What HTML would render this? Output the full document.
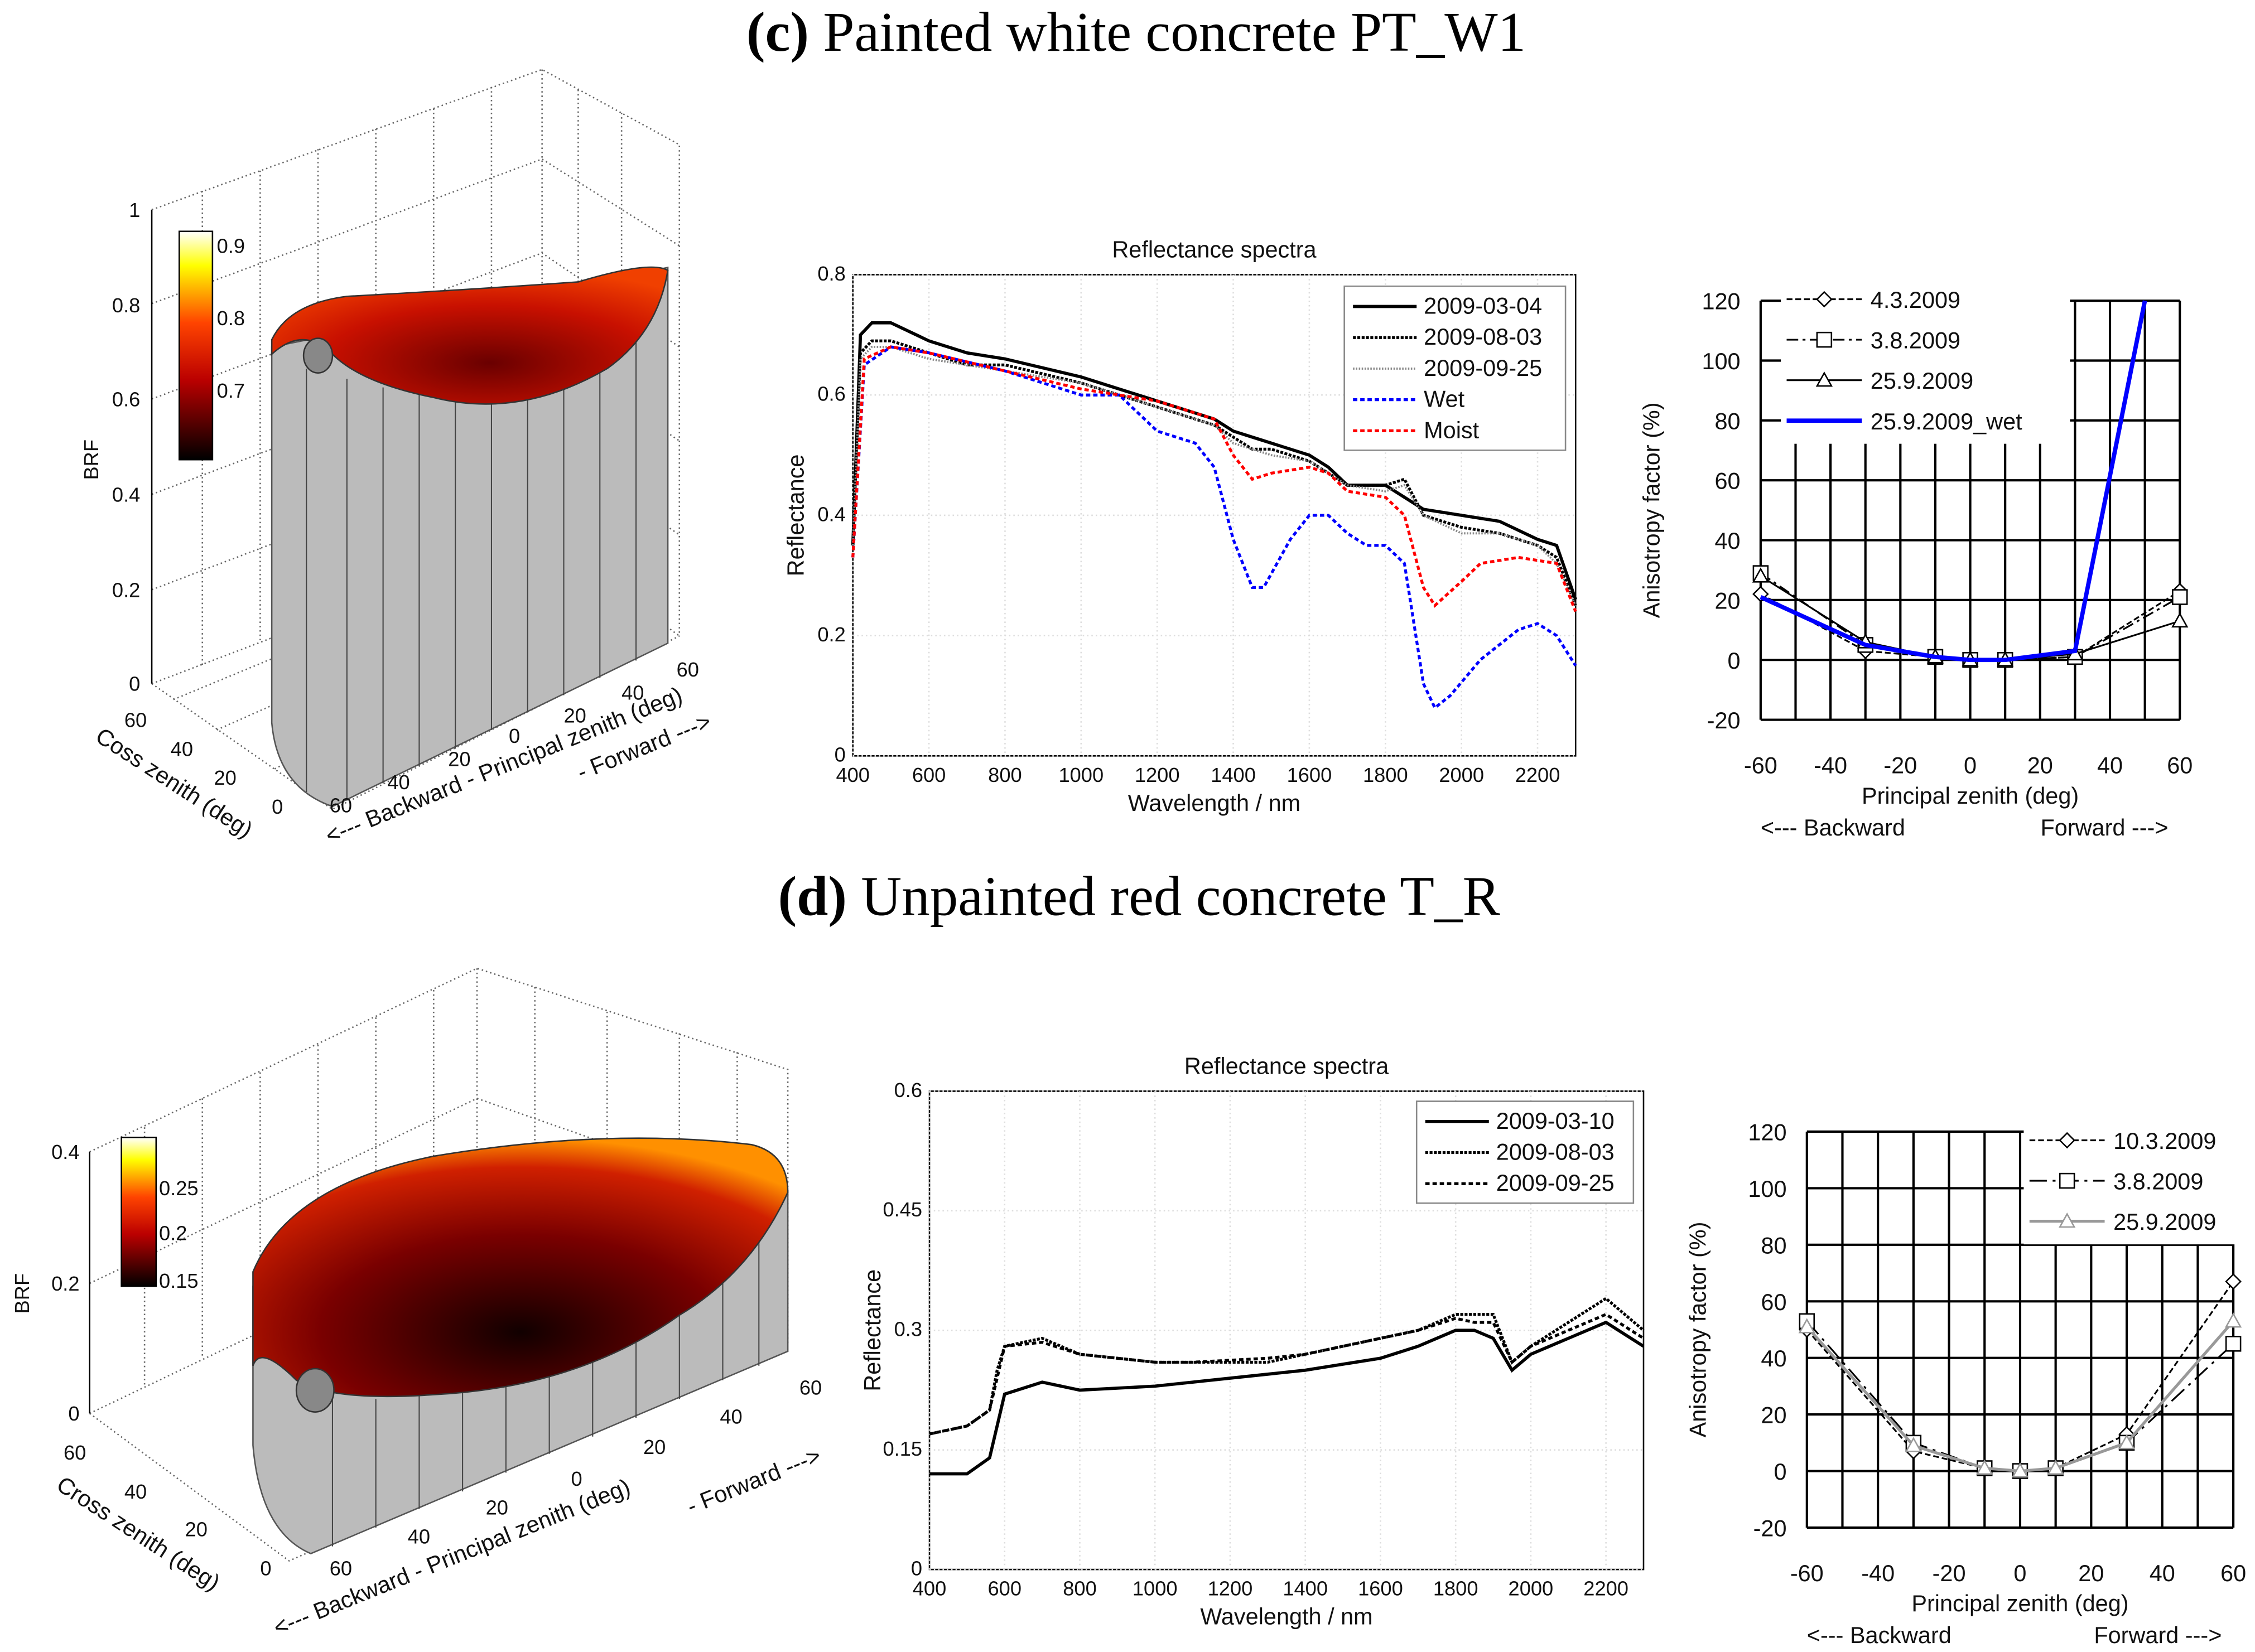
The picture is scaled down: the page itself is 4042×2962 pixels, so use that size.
<!DOCTYPE html>
<html><head><meta charset="utf-8"><style>
html,body{margin:0;padding:0;background:#fff;}
svg{display:block;font-family:"Liberation Sans",sans-serif;}
.t{font-size:14px;fill:#111}
.al{font-size:16px;fill:#111}
.ti{font-family:"Liberation Serif",serif;font-size:39px;fill:#000}
</style></head><body>
<svg id="fig" width="4042" height="2962" viewBox="0 0 1560 1143" xmlns="http://www.w3.org/2000/svg">
<defs>
<linearGradient id="cb" x1="0" y1="1" x2="0" y2="0">
<stop offset="0" stop-color="#000"/><stop offset="0.35" stop-color="#b00"/><stop offset="0.6" stop-color="#f40"/><stop offset="0.85" stop-color="#ff0"/><stop offset="1" stop-color="#fff"/></linearGradient>
<radialGradient id="sc" cx="0.55" cy="0.7" r="0.7"><stop offset="0" stop-color="#6a0000"/><stop offset="0.6" stop-color="#c81000"/><stop offset="1" stop-color="#f04000"/></radialGradient>
<radialGradient id="sd" cx="0.5" cy="0.75" r="0.75"><stop offset="0" stop-color="#100"/><stop offset="0.5" stop-color="#7a0000"/><stop offset="0.85" stop-color="#d02000"/><stop offset="1" stop-color="#ff9000"/></radialGradient>
</defs>

<text class="ti" x="786" y="35" text-anchor="middle"><tspan font-weight="bold">(c)</tspan> Painted white concrete PT_W1</text>
<text class="ti" x="788" y="633" text-anchor="middle"><tspan font-weight="bold">(d)</tspan> Unpainted red concrete T_R</text>

<!-- 3D panel c -->
<g stroke="#666" stroke-dasharray="1,2" fill="none" stroke-width="1">
<path d="M105,145 L375,48 L470,100 L470,440 M105,473 L375,370 L470,440 M375,48 L375,370"/>
<path d="M105,408 L375,305 L470,370 M105,342 L375,240 L470,305 M105,276 L375,175 L470,240 M105,210 L375,110 L470,170"/>
<path d="M140,132 L140,460 M180,118 L180,445 M220,103 L220,430 M260,89 L260,415 M300,75 L300,400 M340,60 L340,385 M400,62 L400,385 M430,78 L430,410"/>
<path d="M105,473 L230,560 L470,440 M120,484 L395,370 M150,505 L420,385 M190,532 L445,400"/>
</g>
<g>
<line x1="105" y1="145" x2="105" y2="473" stroke="#000"/>
<text class="t" x="97" y="150" text-anchor="end">1</text>
<text class="t" x="97" y="216" text-anchor="end">0.8</text>
<text class="t" x="97" y="281" text-anchor="end">0.6</text>
<text class="t" x="97" y="347" text-anchor="end">0.4</text>
<text class="t" x="97" y="413" text-anchor="end">0.2</text>
<text class="t" x="97" y="478" text-anchor="end">0</text>
<text class="t" x="68" y="318" transform="rotate(-90 68 318)" text-anchor="middle">BRF</text>
</g>
<path d="M188,240 L188,500 Q192,545 230,558 L462,445 L462,185 Z" fill="#bbb" stroke="#555"/>
<g stroke="#444" stroke-width="0.8"><path d="M212,255 V548 M240,262 V554 M265,268 V542 M290,272 V530 M315,275 V518 M340,275 V505 M365,272 V493 M390,265 V481 M415,250 V469 M440,225 V457"/></g>
<path d="M188,235 Q200,210 240,205 Q330,200 400,195 Q450,180 462,187 Q455,230 420,255 Q360,290 300,275 Q250,265 230,245 Q210,225 188,245 Z" fill="url(#sc)" stroke="#333"/>
<ellipse cx="220" cy="246" rx="10" ry="12" fill="#888" stroke="#333"/>
<rect x="124" y="160" width="23" height="158" fill="url(#cb)" stroke="#000"/>
<text class="t" x="150" y="175">0.9</text><text class="t" x="150" y="225">0.8</text><text class="t" x="150" y="275">0.7</text>
<g class="t">
<text x="86" y="503">60</text><text x="118" y="523">40</text><text x="148" y="543">20</text><text x="188" y="563">0</text>
<text x="228" y="562">60</text><text x="268" y="546">40</text><text x="310" y="530">20</text><text x="352" y="514">0</text><text x="390" y="500">20</text><text x="430" y="484">40</text><text x="468" y="468">60</text>
<text x="65" y="512" transform="rotate(33 65 512)" class="al">Coss zenith (deg)</text>
<text x="228" y="584" transform="rotate(-22 228 584)" class="al">&lt;--- Backward -  Principal zenith (deg)</text>
<text x="402" y="540" transform="rotate(-22 402 540)" class="al">- Forward ---&gt;</text>
</g>

<!-- 3D panel d -->
<g stroke="#666" stroke-dasharray="1,2" fill="none">
<path d="M62,797 L330,670 L545,740 L545,930 M62,978 L330,850 L545,930 M330,670 L330,850 M62,888 L330,760 L545,835"/>
<path d="M100,780 V960 M140,760 V940 M180,742 V920 M220,723 V900 M260,704 V880 M300,685 V865 M370,683 V865 M420,700 V880 M470,715 V900 M510,728 V915"/>
<path d="M62,978 L200,1080 L545,930"/>
</g>
<g>
<line x1="62" y1="797" x2="62" y2="978" stroke="#000"/>
<text class="t" x="55" y="802" text-anchor="end">0.4</text>
<text class="t" x="55" y="893" text-anchor="end">0.2</text>
<text class="t" x="55" y="983" text-anchor="end">0</text>
<text class="t" x="20" y="895" transform="rotate(-90 20 895)" text-anchor="middle">BRF</text>
</g>
<path d="M175,890 L175,1000 Q180,1060 215,1075 L545,935 L545,825 Z" fill="#bbb" stroke="#555"/>
<g stroke="#444" stroke-width="0.8"><path d="M230,968 V1070 M260,968 V1057 M290,966 V1044 M320,962 V1032 M350,955 V1019 M380,945 V1006 M410,932 V994 M440,915 V981 M470,895 V968 M500,870 V955 M525,845 V945"/></g>
<path d="M175,880 Q200,820 300,800 Q420,780 520,792 Q545,798 545,825 Q520,880 470,910 Q400,960 300,965 Q230,970 205,955 Q180,930 175,945 Z" fill="url(#sd)" stroke="#333"/>
<ellipse cx="218" cy="962" rx="13" ry="15" fill="#888" stroke="#333"/>
<rect x="84" y="787" width="24" height="103" fill="url(#cb)" stroke="#000"/>
<text class="t" x="110" y="827">0.25</text><text class="t" x="110" y="858">0.2</text><text class="t" x="110" y="891">0.15</text>
<g class="t">
<text x="44" y="1010">60</text><text x="86" y="1037">40</text><text x="128" y="1063">20</text><text x="180" y="1090">0</text>
<text x="228" y="1090">60</text><text x="282" y="1068">40</text><text x="336" y="1048">20</text><text x="395" y="1028">0</text><text x="445" y="1006">20</text><text x="498" y="985">40</text><text x="553" y="965">60</text>
<text x="38" y="1030" transform="rotate(33 38 1030)" class="al">Cross zenith (deg)</text>
<text x="192" y="1132" transform="rotate(-22 192 1132)" class="al">&lt;--- Backward -  Principal zenith (deg)</text>
<text x="478" y="1048" transform="rotate(-22 478 1048)" class="al">- Forward ---&gt;</text>
</g>

<g id="sc1"></g>
<g id="sc2"></g>
<g id="af1"></g>
<g id="af2"></g>
</svg>
<script>
// ---- data ----
const wlC1=[400,420,450,500,600,700,800,1000,1200,1300,1350,1400,1450,1500,1600,1650,1700,1800,1850,1900,2000,2100,2200,2250,2300];
const c0304=[0.35,0.70,0.72,0.72,0.69,0.67,0.66,0.63,0.59,0.57,0.56,0.54,0.53,0.52,0.50,0.48,0.45,0.45,0.43,0.41,0.40,0.39,0.36,0.35,0.26];
const c0803=[0.35,0.67,0.69,0.69,0.67,0.65,0.65,0.62,0.58,0.56,0.55,0.53,0.51,0.51,0.49,0.47,0.45,0.45,0.46,0.40,0.38,0.37,0.35,0.33,0.25];
const c0925=[0.35,0.66,0.68,0.68,0.66,0.65,0.64,0.62,0.58,0.56,0.55,0.52,0.51,0.50,0.49,0.47,0.45,0.44,0.45,0.40,0.37,0.37,0.35,0.32,0.25];
const wlWet=[400,430,500,600,800,1000,1100,1150,1200,1300,1350,1400,1450,1480,1550,1600,1650,1700,1750,1800,1850,1900,1930,1970,2050,2150,2200,2250,2300];
const cWet=[0.33,0.65,0.68,0.67,0.64,0.60,0.60,0.57,0.54,0.52,0.48,0.36,0.28,0.28,0.36,0.40,0.40,0.37,0.35,0.35,0.32,0.12,0.08,0.10,0.16,0.21,0.22,0.20,0.15];
const wlMoist=[400,430,500,600,800,1000,1200,1300,1350,1400,1450,1500,1600,1650,1700,1800,1850,1900,1930,2000,2050,2150,2250,2300];
const cMoist=[0.33,0.66,0.68,0.67,0.64,0.61,0.59,0.57,0.56,0.50,0.46,0.47,0.48,0.47,0.44,0.43,0.40,0.28,0.25,0.29,0.32,0.33,0.32,0.24];
const wlD=[400,500,560,580,600,700,800,1000,1100,1300,1400,1600,1700,1800,1850,1900,1950,2000,2100,2200,2300];
const d0310=[0.12,0.12,0.14,0.18,0.22,0.235,0.225,0.23,0.235,0.245,0.25,0.265,0.28,0.30,0.30,0.29,0.25,0.27,0.29,0.31,0.28];
const d0803=[0.17,0.18,0.20,0.25,0.28,0.29,0.27,0.26,0.26,0.26,0.27,0.29,0.30,0.32,0.32,0.32,0.26,0.28,0.31,0.34,0.30];
const d0925=[0.17,0.18,0.20,0.24,0.28,0.285,0.27,0.26,0.26,0.265,0.27,0.29,0.30,0.315,0.31,0.31,0.26,0.28,0.30,0.32,0.29];
const angles=[-60,-30,-10,0,10,30,60];
const af0403=[22,3,1,0,0,1,23];
const af0308=[29,5,1,0,0,1,21];
const af2509=[28,6,1,0,0,2,13];
const anglesWet=[-60,-30,-10,0,10,30,50];
const afWet=[21,5,1,0,0,3,120];
const af1003=[50,7,1,0,1,13,67];
const af0308d=[53,10,1,0,1,10,45];
const af2509d=[51,9,1,0,1,10,53];
const wlTicks=[400,600,800,1000,1200,1400,1600,1800,2000,2200];
const reflTicksC=[0,0.2,0.4,0.6,0.8];
const reflTicksD=[0,0.15,0.3,0.45,0.6];
const angTicks=[-60,-40,-20,0,20,40,60];
const afTicks=[-20,0,20,40,60,80,100,120];

const NS="http://www.w3.org/2000/svg";
function mk(p,tag,a,txt){const e=document.createElementNS(NS,tag);for(const k in a)e.setAttribute(k,a[k]);if(txt!==undefined)e.textContent=txt;p.appendChild(e);return e;}
function lin(d0,d1,r0,r1){return v=>r0+(v-d0)*(r1-r0)/(d1-d0);}

function spectra(g,box,ymax,yt,series,legend,title){
  const X=lin(400,2300,box.x0,box.x1),Y=lin(0,ymax,box.y1,box.y0);
  mk(g,'rect',{x:box.x0,y:box.y0,width:box.x1-box.x0,height:box.y1-box.y0,fill:'#fff',stroke:'#000'});
  wlTicks.forEach(t=>{mk(g,'line',{x1:X(t),x2:X(t),y1:box.y0,y2:box.y1,stroke:'#ddd','stroke-dasharray':'1,2'});
    const l=mk(g,'text',{x:X(t),y:box.y1+18,'text-anchor':'middle',class:'t','font-size':'13'},t);
    
    });
  yt.forEach(t=>{mk(g,'line',{x1:box.x0,x2:box.x1,y1:Y(t),y2:Y(t),stroke:'#ddd','stroke-dasharray':'1,2'});
    const l=mk(g,'text',{x:box.x0-5,y:Y(t)+4,'text-anchor':'end',class:'t','font-size':'13'},t);
    
    });
  series.forEach(s=>{const p=mk(g,'polyline',{points:s.x.map((v,i)=>X(v)+','+Y(s.y[i])).join(' '),fill:'none',stroke:s.c,'stroke-width':s.w,'stroke-dasharray':s.d||''});
    
    });
  const tt=mk(g,'text',{x:(box.x0+box.x1)/2,y:box.y0-12,'text-anchor':'middle',class:'al'},title);
  
  
  const xl=mk(g,'text',{x:(box.x0+box.x1)/2,y:box.y1+38,'text-anchor':'middle',class:'al'},'Wavelength / nm');
  
  
  const cy=(box.y0+box.y1)/2,cx=box.x0-34;
  const yl=mk(g,'text',{x:cx,y:cy,'text-anchor':'middle',class:'al',transform:`rotate(-90 ${cx} ${cy})`},'Reflectance');
  
  
  const lg=mk(g,'g',{});
  
  
  mk(lg,'rect',{x:legend.x,y:legend.y,width:legend.w,height:series.length*21.5+6,fill:'#fff',stroke:'#888'});
  series.forEach((s,i)=>{const yy=legend.y+14+i*21.5;
    mk(lg,'line',{x1:legend.x+6,x2:legend.x+50,y1:yy,y2:yy,stroke:s.c,'stroke-width':s.w,'stroke-dasharray':s.d||''});
    const e=mk(lg,'text',{x:legend.x+55,y:yy+5,class:'al'},s.n);
    
    });
}
function marker(g,type,x,y,col){
  if(type==='d')mk(g,'path',{d:`M${x},${y-5} L${x+5},${y} L${x},${y+5} L${x-5},${y} Z`,fill:'#fff',stroke:col});
  else if(type==='s')mk(g,'rect',{x:x-5,y:y-5,width:10,height:10,fill:'#fff',stroke:col});
  else if(type==='t')mk(g,'path',{d:`M${x},${y-5} L${x+5},${y+4} L${x-5},${y+4} Z`,fill:'#fff',stroke:col});
}
function aniso(g,box,series,legend){
  const X=lin(-60,60,box.x0,box.x1),Y=lin(-20,120,box.y1,box.y0);
  for(let a=-60;a<=60;a+=10)mk(g,'line',{x1:X(a),x2:X(a),y1:box.y0,y2:box.y1,stroke:'#000','stroke-width':1.6});
  afTicks.forEach(t=>{mk(g,'line',{x1:box.x0,x2:box.x1,y1:Y(t),y2:Y(t),stroke:'#000','stroke-width':1.6});
    const l=mk(g,'text',{x:box.x0-14,y:Y(t)+6,'text-anchor':'end',class:'al','font-size':'17'},t);
    
    });
  angTicks.forEach(t=>{const l=mk(g,'text',{x:X(t),y:box.y1+37,'text-anchor':'middle',class:'al','font-size':'17'},t);
    
    });
  const lg=mk(g,'g',{});
  
  
  mk(lg,'rect',{x:legend.x,y:legend.y,width:legend.w,height:series.length*28+2,fill:'#fff'});
  series.forEach(s=>{const p=mk(g,'polyline',{points:s.x.map((v,i)=>X(v)+','+Y(s.y[i])).join(' '),fill:'none',stroke:s.c,'stroke-width':s.w,'stroke-dasharray':s.d||''});
    
    
    if(s.m)s.x.forEach((v,i)=>marker(g,s.m,X(v),Y(s.y[i]),s.c));});
  series.forEach((s,i)=>{const yy=legend.y+14+i*28;
    mk(lg,'line',{x1:legend.x+4,x2:legend.x+56,y1:yy,y2:yy,stroke:s.c,'stroke-width':s.w,'stroke-dasharray':s.d||''});
    if(s.m)marker(lg,s.m,legend.x+30,yy,s.c);
    const e=mk(lg,'text',{x:legend.x+62,y:yy+6,class:'al','font-size':'17'},s.n);
    
    });
  const xl=mk(g,'text',{x:(box.x0+box.x1)/2,y:box.y1+58,'text-anchor':'middle',class:'al','font-size':'17'},'Principal zenith (deg)');
  
  
  const b=mk(g,'text',{x:box.x0,y:box.y1+80,'text-anchor':'start',class:'al','font-size':'17'},'<--- Backward');
  
  
  const f=mk(g,'text',{x:box.x1-8,y:box.y1+80,'text-anchor':'end',class:'al','font-size':'17'},'Forward --->');
  
  
  const cy=(box.y0+box.y1)/2,cx=box.x0-70;
  const yl=mk(g,'text',{x:cx,y:cy,'text-anchor':'middle',class:'al','font-size':'17',transform:`rotate(-90 ${cx} ${cy})`},'Anisotropy factor (%)');
  
  
}
spectra(document.getElementById('sc1'),{x0:590,x1:1090,y0:190,y1:523},0.8,reflTicksC,[
 {n:'2009-03-04',x:wlC1,y:c0304,c:'#000',w:2.2},
 {n:'2009-08-03',x:wlC1,y:c0803,c:'#000',w:2,d:'2,1'},
 {n:'2009-09-25',x:wlC1,y:c0925,c:'#888',w:1.5,d:'1,1'},
 {n:'Wet',x:wlWet,y:cWet,c:'#00f',w:2,d:'3,2'},
 {n:'Moist',x:wlMoist,y:cMoist,c:'#f00',w:2,d:'3,2'}],{x:930,y:198,w:153},'Reflectance spectra');
spectra(document.getElementById('sc2'),{x0:643,x1:1137,y0:755,y1:1086},0.6,reflTicksD,[
 {n:'2009-03-10',x:wlD,y:d0310,c:'#000',w:2.2},
 {n:'2009-08-03',x:wlD,y:d0803,c:'#000',w:2,d:'2,1'},
 {n:'2009-09-25',x:wlD,y:d0925,c:'#000',w:2,d:'3,2'}],{x:980,y:762,w:150},'Reflectance spectra');
aniso(document.getElementById('af1'),{x0:1218,x1:1508,y0:208,y1:498},[
 {n:'4.3.2009',x:angles,y:af0403,c:'#000',w:1.2,d:'4,2',m:'d'},
 {n:'3.8.2009',x:angles,y:af0308,c:'#000',w:1.2,d:'8,3,2,3',m:'s'},
 {n:'25.9.2009',x:angles,y:af2509,c:'#000',w:1.2,m:'t'},
 {n:'25.9.2009_wet',x:anglesWet,y:afWet,c:'#00f',w:3}],{x:1232,y:193,w:200});
aniso(document.getElementById('af2'),{x0:1250,x1:1545,y0:783,y1:1057},[
 {n:'10.3.2009',x:angles,y:af1003,c:'#000',w:1.2,d:'4,2',m:'d'},
 {n:'3.8.2009',x:angles,y:af0308d,c:'#000',w:1.2,d:'12,4,2,4',m:'s'},
 {n:'25.9.2009',x:angles,y:af2509d,c:'#999',w:2,m:'t'}],{x:1400,y:775,w:160});
</script>
</body></html>
